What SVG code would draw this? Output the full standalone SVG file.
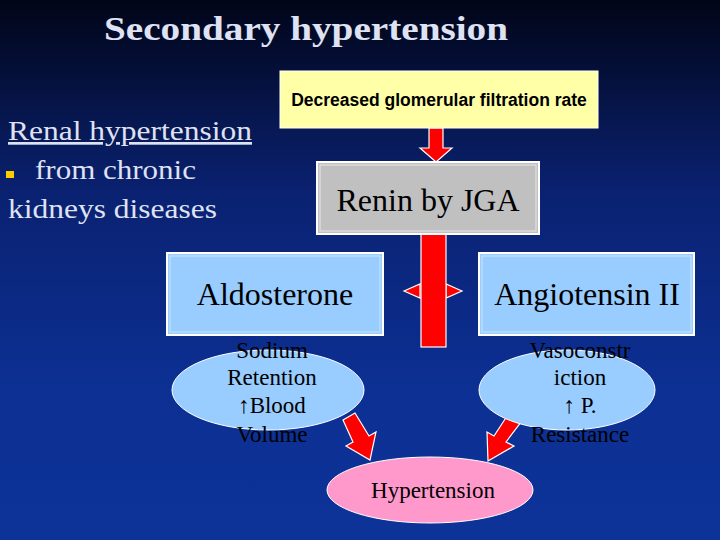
<svg xmlns="http://www.w3.org/2000/svg" width="720" height="540" viewBox="0 0 720 540">
<defs>
<linearGradient id="bg" x1="0" y1="0" x2="0" y2="1">
<stop offset="0" stop-color="#010518"/>
<stop offset="0.35" stop-color="#0a2170"/>
<stop offset="0.7" stop-color="#0c2f92"/>
<stop offset="1" stop-color="#0d3399"/>
</linearGradient>
<style>
.serif{font-family:"Liberation Serif","Times New Roman",serif}
.sans{font-family:"Liberation Sans",Arial,sans-serif}
.light{fill:#dfe2f2}
.box{stroke:#ffffff;stroke-width:2}
.red{fill:#ff0000;stroke:#ffffff;stroke-width:1.2}
.lbl{font-size:23px;fill:#000000;text-anchor:middle}
.big{font-size:32px;fill:#000000;text-anchor:middle}
</style>
</defs>
<rect x="0" y="0" width="720" height="540" fill="url(#bg)"/>

<text class="serif light" x="104" y="40" font-size="34" font-weight="bold" textLength="404" lengthAdjust="spacingAndGlyphs">Secondary hypertension</text>
<g id="side-text">
<text class="serif light" x="8" y="140" font-size="27" text-decoration="underline" textLength="244" lengthAdjust="spacingAndGlyphs">Renal hypertension</text>
<rect x="6" y="171" width="8" height="7" fill="#ffcc00"/>
<text class="serif light" x="35" y="179" font-size="27" textLength="161" lengthAdjust="spacingAndGlyphs">from chronic</text>
<text class="serif light" x="8" y="218" font-size="27" textLength="209" lengthAdjust="spacingAndGlyphs">kidneys diseases</text>
</g>

<g id="connectors">
<polygon class="red" points="429,128 443,128 443,148 452,148 436,162 420,148 429,148"/>
<polygon class="red" points="404,291 420,284 420,298"/>
<polygon class="red" points="462,291 446,284 446,298"/>
<rect class="red" x="421" y="234" width="25" height="113"/>
<polygon class="red" points="343,420 355,413 369,436 376,432 370,460 346,446 353,442"/>
<polygon class="red" points="521,422 509,413 494,436 487,432 488,461 514,446 506,442"/>
</g>

<g id="gfr">
<rect x="280" y="71" width="318" height="57" fill="#ffffa8" stroke="#ffffff" stroke-width="1"/>
<text class="sans" x="439" y="106" font-size="17.5" font-weight="bold" text-anchor="middle" fill="#000">Decreased glomerular filtration rate</text>
</g>

<g id="renin">
<rect class="box" x="317" y="162" width="222" height="72" fill="#c0c0c0"/>
<rect x="320" y="165" width="216" height="66" fill="none" stroke="#e8e8e8" stroke-width="1"/>
<text class="serif big" x="428" y="211">Renin by JGA</text>
</g>

<g id="aldosterone">
<rect class="box" x="167" y="253" width="216" height="82" fill="#99ccff"/>
<rect x="170" y="256" width="210" height="76" fill="none" stroke="#cfe6ff" stroke-width="1"/>
<text class="serif big" x="275" y="305">Aldosterone</text>
</g>

<g id="angiotensin">
<rect class="box" x="479" y="253" width="215" height="82" fill="#99ccff"/>
<rect x="482" y="256" width="209" height="76" fill="none" stroke="#cfe6ff" stroke-width="1"/>
<text class="serif big" x="587" y="305">Angiotensin II</text>
</g>

<g id="sodium">
<ellipse cx="268" cy="390" rx="96" ry="40" fill="#99ccff" stroke="#ffffff" stroke-width="1"/>
<text class="serif lbl" x="272" y="358">Sodium</text>
<text class="serif lbl" x="272" y="385">Retention</text>
<text class="serif lbl" x="272" y="413">↑Blood</text>
<text class="serif lbl" x="272" y="442">Volume</text>
</g>

<g id="vaso">
<ellipse cx="567" cy="390" rx="88" ry="40" fill="#99ccff" stroke="#ffffff" stroke-width="1"/>
<text class="serif lbl" x="580" y="358">Vasoconstr</text>
<text class="serif lbl" x="580" y="385">iction</text>
<text class="serif lbl" x="580" y="413">↑ P.</text>
<text class="serif lbl" x="580" y="442">Resistance</text>
</g>

<g id="hypertension">
<ellipse cx="430" cy="490" rx="103" ry="33" fill="#ff99cc" stroke="#ffffff" stroke-width="1"/>
<text class="serif lbl" x="433" y="498">Hypertension</text>
</g>
</svg>
